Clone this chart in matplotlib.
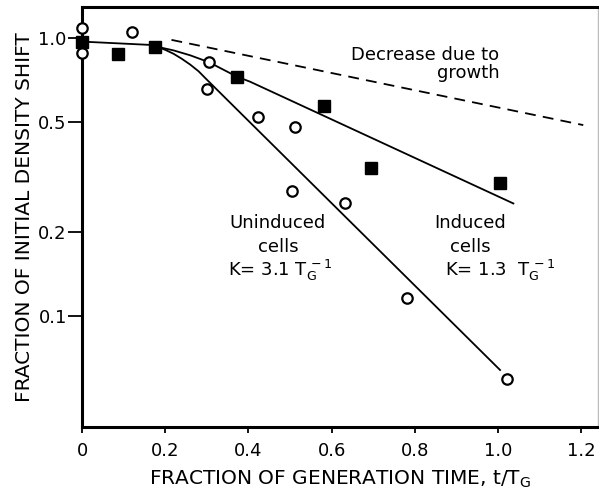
import numpy as np
import matplotlib
matplotlib.use("Agg")
import matplotlib.pyplot as plt

# induced cells (filled squares)
t_induced = [0.0, 0.087, 0.175, 0.372, 0.582, 0.694, 1.005]
y_induced = [0.967, 0.876, 0.926, 0.722, 0.569, 0.340, 0.302]

# uninduced cells (open circles)
t_uninduced = [0.0, 0.0, 0.121, 0.304, 0.300, 0.424, 0.512, 0.504, 0.631, 0.782, 1.022]
y_uninduced = [1.084, 0.881, 1.054, 0.822, 0.654, 0.521, 0.480, 0.282, 0.254, 0.116, 0.0593]

# fitted curves
t_fit_un = [0.0, 0.163, 0.18, 0.20, 0.22, 0.24, 0.26, 0.28, 0.30, 1.005]
y_fit_un = [0.970, 0.944, 0.930, 0.906, 0.877, 0.841, 0.802, 0.759, 0.708, 0.064]
t_fit_in = [0.18, 0.22, 0.26, 0.305, 0.372, 0.404, 1.037]
y_fit_in = [0.930, 0.902, 0.866, 0.818, 0.726, 0.696, 0.254]

# decrease due to growth (dashed)
t_growth = [0.215, 1.205]
y_growth = [0.984, 0.486]

yticks = [1.0, 0.5, 0.2, 0.1]
ytick_labels = ["1.0", "0.5", "0.2", "0.1"]
xticks = [0, 0.2, 0.4, 0.6, 0.8, 1.0, 1.2]
xtick_labels = ["0", "0.2", "0.4", "0.6", "0.8", "1.0", "1.2"]

plt.rcParams['font.family'] = ['DejaVu Sans']
plt.rcParams['mathtext.fontset'] = 'dejavusans'

fig = plt.figure(figsize=(5.99, 4.92), dpi=100)
ax = fig.add_axes([0.137, 0.132, 0.861, 0.854])
ax.set_yscale('log')

# lines
ax.plot(t_fit_un, y_fit_un, color='black', lw=1.3, zorder=2)
ax.plot(t_fit_in, y_fit_in, color='black', lw=1.3, zorder=2)
ax.plot(t_growth, y_growth, color='black', lw=1.3, dashes=(6, 4), zorder=2)

# points
ax.plot(t_uninduced, y_uninduced, 'o', ms=7.5, mfc='white', mec='black', mew=1.6,
        zorder=3, clip_on=False)
ax.plot(t_induced, y_induced, 's', ms=8, mfc='black', mec='black', zorder=4,
        clip_on=False)

ax.set_xlim(0, 1.24)
ax.set_ylim(0.0399, 1.293)

ax.set_yticks(yticks)
ax.set_yticklabels(ytick_labels)
ax.yaxis.set_minor_locator(matplotlib.ticker.NullLocator())
ax.set_xticks(xticks)
ax.set_xticklabels(xtick_labels)

ax.tick_params(axis='y', direction='out', length=10, width=1.3, pad=1, labelsize=13)
ax.tick_params(axis='x', direction='out', length=4, width=1.3, pad=7, labelsize=13)

for side in ['left', 'bottom', 'top']:
    ax.spines[side].set_linewidth(2.2)
ax.spines['right'].set_linewidth(1.0)
ax.spines['right'].set_color('#bbbbbb')

ax.set_ylabel("FRACTION OF INITIAL DENSITY SHIFT", fontsize=14.5, labelpad=3)
ax.set_xlabel(r"FRACTION OF GENERATION TIME, t/$\mathregular{T_G}$", fontsize=14.5,
              labelpad=6)

# annotations
ax.text(0.825, 0.869, "Decrease due to", ha='center', va='center', fontsize=13)
ax.text(1.005, 0.745, "growth", ha='right', va='center', fontsize=13)

ax.text(0.471, 0.216, "Uninduced", ha='center', va='center', fontsize=13)
ax.text(0.471, 0.177, "cells", ha='center', va='center', fontsize=13)
ax.text(0.351, 0.146, r"K= 3.1 $\mathregular{T_G^{\,-1}}$", ha='left', va='center',
        fontsize=13)

ax.text(0.933, 0.216, "Induced", ha='center', va='center', fontsize=13)
ax.text(0.933, 0.177, "cells", ha='center', va='center', fontsize=13)
ax.text(0.873, 0.146, r"K= 1.3  $\mathregular{T_G^{\,-1}}$", ha='left', va='center',
        fontsize=13)

fig.savefig("out.png", dpi=100)
